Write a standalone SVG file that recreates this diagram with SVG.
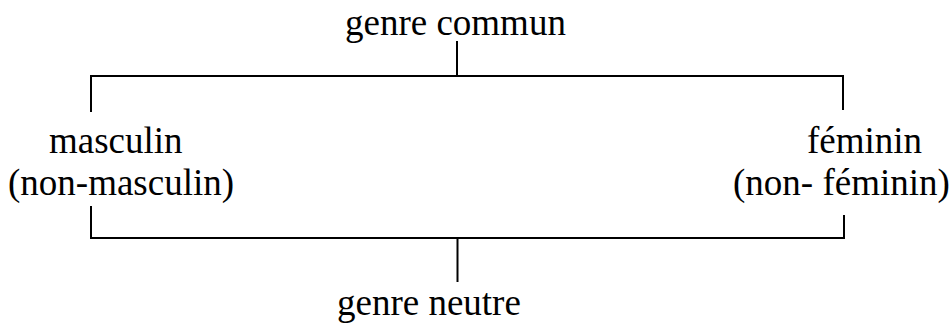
<svg xmlns="http://www.w3.org/2000/svg" width="952" height="324" viewBox="0 0 952 324">
  <style>
    .lbl { font-family: "Liberation Serif", "Times New Roman", serif; font-size: 37px; fill: #000; }
    .ln { stroke: #000; stroke-width: 2; fill: none; }
  </style>
  <rect width="952" height="324" fill="#fff"/>
  <g id="connectors">
    <!-- upper bracket: stem from "genre commun" and the arm joining both genders -->
    <path class="ln" d="M457 41 V76"/>
    <path class="ln" d="M91 112 V76 H843 V110"/>
    <!-- lower bracket: arm joining both genders and stem to "genre neutre" -->
    <path class="ln" d="M91 206 V238 H844 V215"/>
    <path class="ln" d="M457.5 238 V282"/>
  </g>
  <g id="genre-commun">
    <text class="lbl" x="345" y="35">genre commun</text>
  </g>
  <g id="masculin">
    <text class="lbl" x="49" y="153">masculin</text>
    <text class="lbl" x="8" y="195">(non-masculin)</text>
  </g>
  <g id="feminin">
    <text class="lbl" x="807" y="153">féminin</text>
    <text class="lbl" x="733" y="195">(non- féminin)</text>
  </g>
  <g id="genre-neutre">
    <text class="lbl" x="337" y="315">genre neutre</text>
  </g>
</svg>
